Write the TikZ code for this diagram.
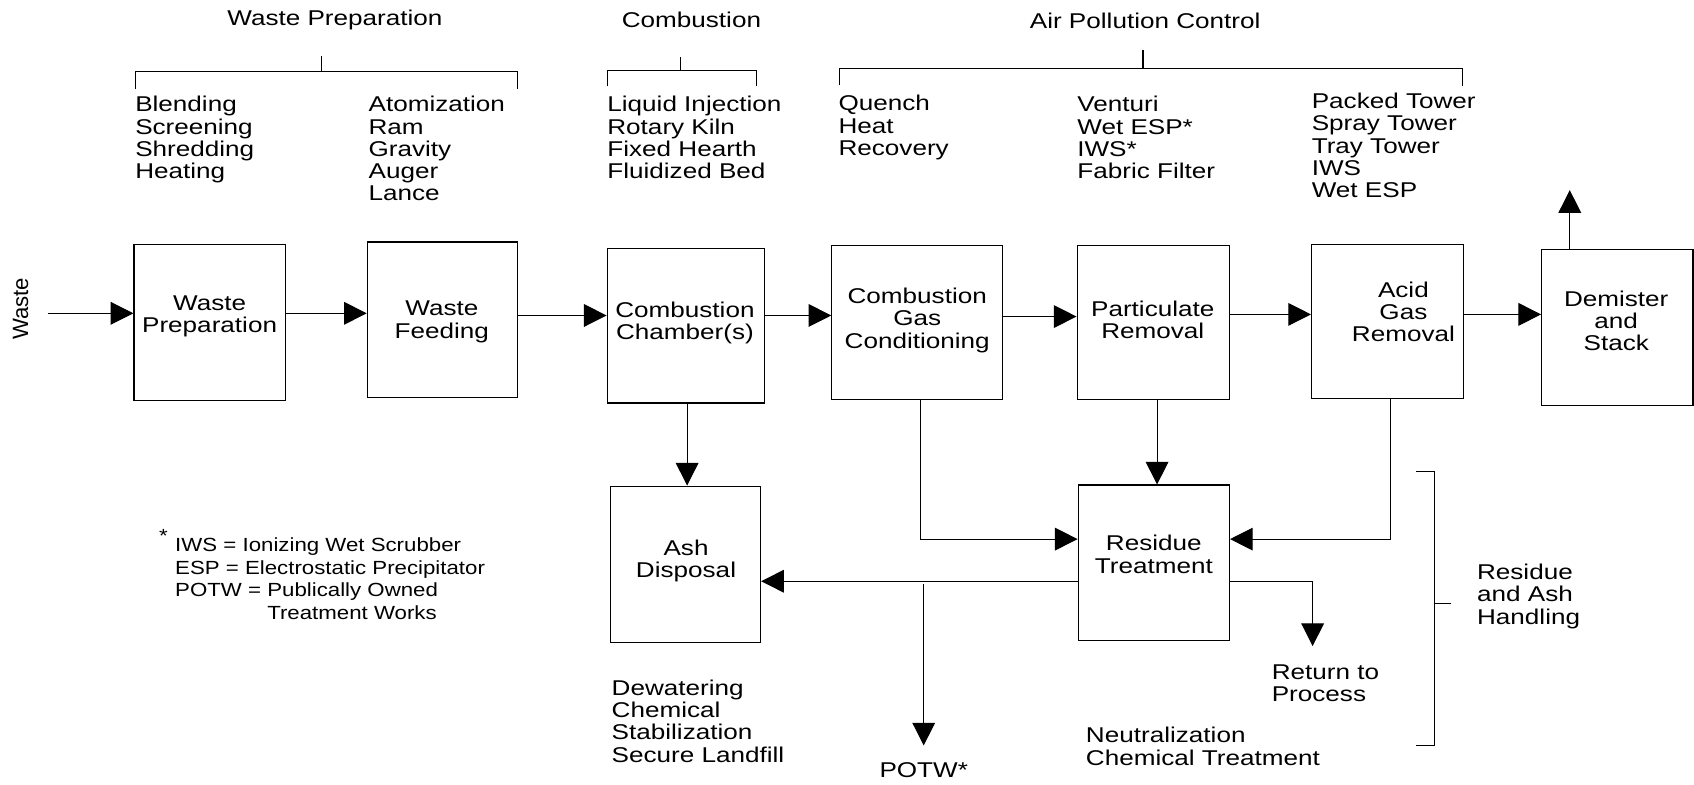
\documentclass[tikz,border=0pt]{standalone}
\usepackage{fontspec}
\setmainfont{Liberation Sans}[FakeStretch=1.22]
\newfontfamily\fnfont{Liberation Sans}[FakeStretch=1.17]
\newfontfamily\plainfont{Liberation Sans}
\usetikzlibrary{arrows.meta}
\newcommand{\mysz}{\fontsize{19.8}{20.6}\selectfont}
\newcommand{\myfn}{\fnfont\fontsize{17.6}{21}\selectfont}
\begin{document}
\begin{tikzpicture}[x=1pt,y=-1pt,
  box/.style={draw,line width=1.1pt,inner sep=0pt},
  btxt/.style={inner sep=0pt,align=center,font=\mysz},
  txt/.style={inner sep=0pt,anchor=north west,align=left,font=\mysz},
  hdr/.style={inner sep=0pt,anchor=base,font=\mysz},
  arr/.style={line width=1pt,-{Triangle[length=21pt,width=21pt]}},
  ln/.style={line width=1pt}]
\useasboundingbox (0,0) rectangle (1568,726);

% headers
\node[hdr] (h1) at (310,24) {Waste Preparation};
\node[hdr] (h2) at (640,25) {Combustion};
\node[hdr] (h3) at (1060,26) {Air Pollution Control};

% header brackets
\draw[ln] (298,52) -- (298,66);
\draw[ln] (125,82) -- (125,66) -- (479,66) -- (479,82);
\draw[ln] (630,53) -- (630,65);
\draw[ln] (562,80) -- (562,65) -- (700,65) -- (700,80);
\draw[ln] (1058,46) -- (1058,63);
\draw[ln] (777,79) -- (777,63) -- (1354,63) -- (1354,80);

% lists
\node[txt] (l1) at (125,89) {Blending\\Screening\\Shredding\\Heating};
\node[txt] (l2) at (341,89) {Atomization\\Ram\\Gravity\\Auger\\Lance};
\node[txt] (l3) at (562,89) {Liquid Injection\\Rotary Kiln\\Fixed Hearth\\Fluidized Bed};
\node[txt] (l4) at (776,88) {Quench\\Heat\\Recovery};
\node[txt] (l5) at (997,89) {Venturi\\Wet ESP*\\IWS*\\Fabric Filter};
\node[txt] (l6) at (1214,86) {Packed Tower\\Spray Tower\\Tray Tower\\IWS\\Wet ESP};

% boxes
\node[box,minimum width=140pt,minimum height=145pt] (wp) at (194,298.5) {};
\node[box,minimum width=139pt,minimum height=144pt] (wf) at (409.5,296) {};
\node[box,minimum width=146pt,minimum height=143pt] (cc) at (635,301.5) {};
\node[box,minimum width=158pt,minimum height=143pt] (gc) at (849,298.5) {};
\node[box,minimum width=141pt,minimum height=143pt] (pr) at (1067.5,298.5) {};
\node[box,minimum width=141pt,minimum height=143pt] (ag) at (1284.5,297.5) {};
\node[box,minimum width=140pt,minimum height=144pt] (ds) at (1497,303) {};
\node[box,minimum width=139pt,minimum height=145pt] (ad) at (634.5,522.5) {};
\node[box,minimum width=140pt,minimum height=144pt] (rt) at (1068,521) {};

% box texts
\node[btxt] (wpt) at (194,293) {Waste\\Preparation};
\node[btxt] (wft) at (409,298) {Waste\\Feeding};
\node[btxt] (cct) at (634,299) {Combustion\\Chamber(s)};
\node[btxt] (gct) at (849,296.5) {Combustion\\Gas\\Conditioning};
\node[btxt] (prt) at (1067,296) {Particulate\\Removal};
\node[btxt] (agt) at (1299,288.5) {Acid\\Gas\\Removal};
\node[btxt] (dst) at (1496,297) {Demister\\and\\Stack};
\node[btxt] (adt) at (635,519) {Ash\\Disposal};
\node[btxt] (rtt) at (1068,513) {Residue\\Treatment};

% waste input
\node[rotate=90,inner sep=0pt,font=\plainfont\fontsize{20.5}{21}\selectfont] (wl) at (19,286) {Waste};
\coordinate (win) at (44,290);
\draw[arr] (win) -- (wp.west |- win);

% main flow
\coordinate (r1) at (0,290);
\coordinate (r2) at (0,292);
\coordinate (r3) at (0,293);
\coordinate (r4) at (0,291);
\draw[arr] (wp.east |- r1) -- (wf.west |- r1);
\draw[arr] (wf.east |- r2) -- (cc.west |- r2);
\draw[arr] (cc.east |- r2) -- (gc.west |- r2);
\draw[arr] (gc.east |- r3) -- (pr.west |- r3);
\draw[arr] (pr.east |- r4) -- (ag.west |- r4);
\draw[arr] (ag.east |- r4) -- (ds.west |- r4);
\coordinate (stk) at (1453,176);
\draw[arr] (ds.north -| stk) -- (stk);

% residues
\coordinate (c1) at (636,0);
\draw[arr] (cc.south -| c1) -- (ad.north -| c1);
\coordinate (g1) at (852,499);
\draw[arr] (gc.south -| g1) -- (g1) -- (rt.west |- g1);
\coordinate (p1) at (1071,0);
\draw[arr] (pr.south -| p1) -- (rt.north -| p1);
\coordinate (a1) at (1287,499);
\draw[arr] (ag.south -| a1) -- (a1) -- (rt.east |- a1);
\coordinate (r5) at (0,538);
\draw[arr] (rt.west |- r5) -- (ad.east |- r5);
\coordinate (ps) at (855,541);
\coordinate (pe) at (855,690);
\draw[arr] (ps) -- (pe);
\coordinate (rr) at (1215,538);
\coordinate (re) at (1215,598);
\draw[arr] (rt.east |- rr) -- (rr) -- (re);

% lower labels
\node[hdr] (potw) at (855,720) {POTW*};
\node[txt] (l7) at (566,629) {Dewatering\\Chemical\\Stabilization\\Secure Landfill};
\node[txt] (l8) at (1177,615) {Return to\\Process};
\node[txt] (l9) at (1005,673) {Neutralization\\Chemical Treatment};
\node[txt] (l10) at (1367,522) {Residue\\and Ash\\Handling};

% right bracket
\draw[ln] (1311,436) -- (1328,436) -- (1328,690) -- (1311,690);
\draw[ln] (1328,559) -- (1343,559);

% footnote
\node[inner sep=0pt,anchor=north west,font=\myfn] (star) at (147,490) {*};
\node[inner sep=0pt,anchor=north west,align=left,font=\myfn] (fn) at (162,497.5)
  {IWS = Ionizing Wet Scrubber\\ESP = Electrostatic Precipitator\\POTW = Publically Owned\\\phantom{POTW = }Treatment Works};
\end{tikzpicture}
\end{document}
